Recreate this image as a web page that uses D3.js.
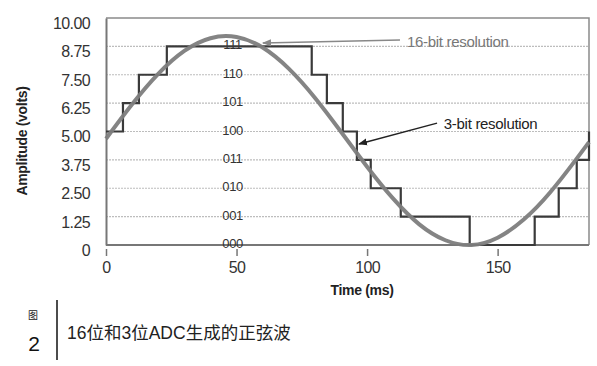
<!DOCTYPE html>
<html>
<head>
  <meta charset="utf-8">
  <title>adc sine</title>
  <style>
    body{ margin:0; background:#fff; }
    .tick text{ font-family:"Liberation Sans",Arial,sans-serif; font-size:16px; fill:#333; letter-spacing:-0.6px; }
    .code{ font-family:"Liberation Sans",Arial,sans-serif; font-size:13px; fill:#333; text-anchor:middle; letter-spacing:-0.4px; }
    .title{ font-family:"Liberation Sans",Arial,sans-serif; font-size:14px; font-weight:bold; fill:#222; text-anchor:middle; letter-spacing:-0.3px; }
    .note{ font-family:"Liberation Sans",Arial,sans-serif; font-size:15px; letter-spacing:-0.3px; }
  </style>
  <script src="https://d3js.org/d3.v7.min.js"></script>
</head>
<body>
  <script>
    // 16-bit curve (ms, volts)
    var sineT = [0, 10, 20, 30, 40, 50, 60, 70, 80, 90, 100, 110, 120, 130, 140, 150, 160, 170, 180, 185];
    var sineV = [4.68, 6.20, 7.54, 8.55, 9.11, 9.16, 8.70, 7.77, 6.49, 4.99, 3.45, 2.04, 0.91, 0.21, 0.0, 0.32, 1.12, 2.30, 3.76, 4.53];

    // 3-bit staircase: time where each level starts
    var stepT = [0, 6.5, 12.6, 23.3, 78.8, 84.6, 90.7, 96.1, 101.4, 112.9, 139.3, 164.2, 173.4, 180.3, 185];
    var stepV = [5.00, 6.25, 7.50, 8.75, 7.50, 6.25, 5.00, 3.75, 2.50, 1.25, 0, 1.25, 2.50, 3.75, 5.00];

    var codes = ['000', '001', '010', '011', '100', '101', '110', '111'];
    var codeLevels = [0, 1.25, 2.50, 3.75, 5.00, 6.25, 7.50, 8.75];
    var yTicks = [0, 1.25, 2.50, 3.75, 5.00, 6.25, 7.50, 8.75, 10.00];
    var xTicks = [0, 50, 100, 150];

    var width = 597, height = 366;
    var svg = d3.select('body').append('svg')
      .attr('width', width)
      .attr('height', height);

    var x = d3.scaleLinear().domain([0, 185]).range([106, 589]);
    var y = d3.scaleLinear().domain([0, 10]).range([245, 18]);

    // grid
    svg.append('g').selectAll('line')
      .data(codeLevels.slice(1))
      .enter().append('line')
      .attr('x1', x(0)).attr('x2', x(185))
      .attr('y1', d => y(d)).attr('y2', d => y(d))
      .attr('stroke', '#bdbdbd')
      .attr('stroke-width', 1.2)
      .attr('stroke-dasharray', '2,1');

    // frame top / right
    svg.append('path')
      .attr('d', 'M' + x(0) + ',' + y(10) + 'H' + x(185) + 'V' + y(0))
      .attr('fill', 'none')
      .attr('stroke', '#8a8a8a')
      .attr('stroke-width', 1.5);

    // y axis
    var yAxis = svg.append('g')
      .attr('transform', 'translate(' + x(0) + ',0)')
      .call(d3.axisLeft(y).tickValues(yTicks).tickSize(0).tickPadding(16)
        .tickFormat(d => d === 0 ? '0' : d.toFixed(2)));
    yAxis.select('.domain').attr('stroke', '#777').attr('stroke-width', 2);
    yAxis.selectAll('text').attr('dy', '0.65em');

    // x axis line
    svg.append('line')
      .attr('x1', x(0)).attr('x2', x(185))
      .attr('y1', y(0)).attr('y2', y(0))
      .attr('stroke', '#777').attr('stroke-width', 2);

    var xAxis = svg.append('g')
      .attr('transform', 'translate(0,' + (y(0) + 4) + ')')
      .call(d3.axisBottom(x).tickValues(xTicks).tickSize(7).tickPadding(6));
    xAxis.select('.domain').remove();
    xAxis.selectAll('.tick line').attr('stroke', '#777').attr('stroke-width', 1.5);

    // codes
    svg.append('g').selectAll('text')
      .data(codes)
      .enter().append('text')
      .attr('class', 'code')
      .attr('x', x(48.5))
      .attr('y', (d, i) => y(codeLevels[i]) + 3)
      .text(d => d);

    // 3-bit staircase
    var stepLine = d3.line()
      .x(d => x(d[0])).y(d => y(d[1]))
      .curve(d3.curveStepAfter);
    svg.append('path')
      .datum(stepT.map((t, i) => [t, stepV[i]]))
      .attr('d', stepLine)
      .attr('fill', 'none')
      .attr('stroke', '#3a3a3a')
      .attr('stroke-width', 2.2);

    // 16-bit curve
    var sineLine = d3.line()
      .x(d => x(d[0])).y(d => y(d[1]))
      .curve(d3.curveNatural);
    svg.append('path')
      .datum(sineT.map((t, i) => [t, sineV[i]]))
      .attr('d', sineLine)
      .attr('fill', 'none')
      .attr('stroke', '#7d7d7d')
      .attr('stroke-width', 4)
      .attr('stroke-opacity', 0.95);

    // arrows
    var defs = svg.append('defs');
    [['ag', '#888'], ['ak', '#222']].forEach(function(m) {
      defs.append('marker')
        .attr('id', m[0])
        .attr('viewBox', '0 0 10 10')
        .attr('refX', 9).attr('refY', 5)
        .attr('markerWidth', 6).attr('markerHeight', 6)
        .attr('orient', 'auto')
        .append('path').attr('d', 'M0,1L10,5L0,9z').attr('fill', m[1]);
    });

    svg.append('line')
      .attr('x1', x(112.6)).attr('y1', y(9.03))
      .attr('x2', x(60.1)).attr('y2', y(8.9))
      .attr('stroke', '#888').attr('stroke-width', 1.5)
      .attr('marker-end', 'url(#ag)');
    svg.append('text')
      .attr('class', 'note')
      .attr('x', x(115.3)).attr('y', y(8.72))
      .attr('fill', '#777')
      .text('16-bit resolution');

    svg.append('line')
      .attr('x1', x(126.8)).attr('y1', y(5.37))
      .attr('x2', x(96.9)).attr('y2', y(4.45))
      .attr('stroke', '#222').attr('stroke-width', 1.5)
      .attr('marker-end', 'url(#ak)');
    svg.append('text')
      .attr('class', 'note')
      .attr('x', x(129.4)).attr('y', y(5.1))
      .attr('fill', '#222')
      .text('3-bit resolution');

    // axis titles
    svg.append('text')
      .attr('class', 'title')
      .attr('x', 362).attr('y', 295)
      .text('Time (ms)');
    svg.append('text')
      .attr('class', 'title')
      .attr('transform', 'translate(27,141) rotate(-90)')
      .text('Amplitude (volts)');

    // caption
    var cap = svg.append('g');
    cap.append('text')
      .attr('x', 33).attr('y', 319)
      .attr('text-anchor', 'middle')
      .style('font-family', '"Noto Sans CJK SC",sans-serif')
      .style('font-size', '10px')
      .attr('fill', '#222')
      .text('图');
    cap.append('text')
      .attr('x', 34).attr('y', 351)
      .attr('text-anchor', 'middle')
      .style('font-family', '"Liberation Sans",Arial,sans-serif')
      .style('font-size', '21px')
      .attr('fill', '#111')
      .text('2');
    cap.append('line')
      .attr('x1', 57).attr('x2', 57)
      .attr('y1', 300).attr('y2', 360)
      .attr('stroke', '#111').attr('stroke-width', 1.5);
    cap.append('text')
      .attr('x', 67).attr('y', 339)
      .style('font-family', '"Liberation Sans","Noto Sans CJK SC",sans-serif')
      .style('font-size', '17.5px')
      .attr('fill', '#222')
      .text('16位和3位ADC生成的正弦波');
  </script>
</body>
</html>
